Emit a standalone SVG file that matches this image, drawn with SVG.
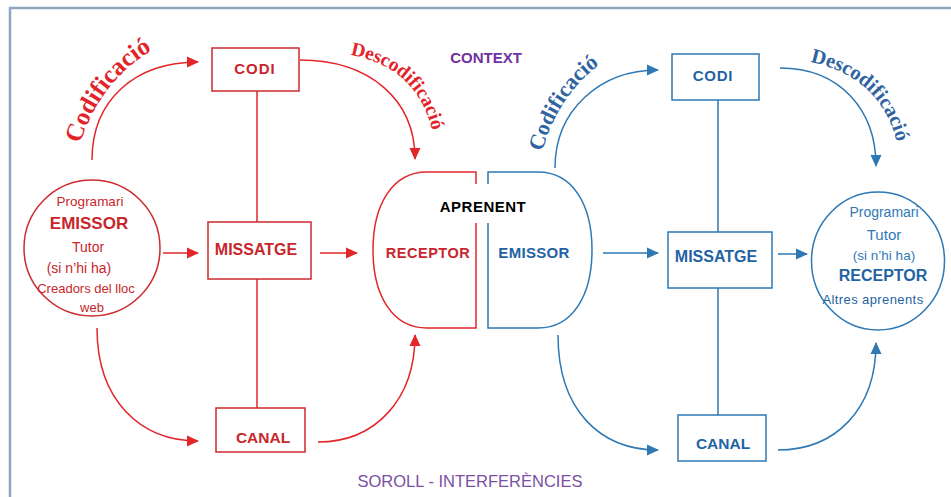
<svg xmlns="http://www.w3.org/2000/svg" width="951" height="497" viewBox="0 0 951 497">
<style>
.bg{fill:#ffffff}
.frame{fill:none;stroke:#8ea7bf;stroke-width:2.5}
.r{fill:none;stroke:#e2262a;stroke-width:1.5}
.rb{fill:#fff;stroke:#cc2a2e;stroke-width:1.5}
.b{fill:none;stroke:#2e78b4;stroke-width:1.5}
.bb{fill:#fff;stroke:#2e78b4;stroke-width:1.5}
text{font-family:"Liberation Sans",Arial,sans-serif;text-anchor:middle}
.rt{fill:#c8262c}
.bt{fill:#1f63a3}
.blt{fill:#2f79b6}
.bold{font-weight:bold}
.arcr{font-family:"Liberation Serif","DejaVu Serif",serif;font-weight:bold;fill:#e2232a;text-anchor:start}
.arcb{font-family:"Liberation Serif","DejaVu Serif",serif;font-weight:bold;fill:#2f64a0;text-anchor:start}
</style>
<defs>
<marker id="ar" markerUnits="userSpaceOnUse" markerWidth="12" markerHeight="12" refX="11" refY="6" orient="auto" viewBox="0 0 12 12"><path d="M0,0.5 L12,6 L0,11.5 z" fill="#e2262a"/></marker>
<marker id="ab" markerUnits="userSpaceOnUse" markerWidth="12" markerHeight="12" refX="11" refY="6" orient="auto" viewBox="0 0 12 12"><path d="M0,0.5 L12,6 L0,11.5 z" fill="#2e78b4"/></marker>
<path id="tp1" d="M80,144 Q103,72 168,42"/>
<path id="tp2" d="M350,55 Q422,68 434,140"/>
<path id="tp3" d="M542,152 Q562,82 620,52"/>
<path id="tp4" d="M810,62 Q888,78 900,158"/>
</defs>
<rect class="bg" x="0" y="0" width="951" height="497"/>
<rect class="frame" x="10" y="8" width="960" height="520"/>

<g id="connectors">
<path class="r" d="M257,91 V222 M257,279 V408"/>
<path class="r" d="M92,160 C92,100 135,62 198,62" marker-end="url(#ar)"/>
<path class="r" d="M300,60 C370,60 415,100 415,159" marker-end="url(#ar)"/>
<path class="r" d="M97,328 C97,400 140,441 198,441" marker-end="url(#ar)"/>
<path class="r" d="M318,442 C375,442 415,400 415,335" marker-end="url(#ar)"/>
<path class="r" d="M163,253 H198" marker-end="url(#ar)"/>
<path class="r" d="M320,253 H357" marker-end="url(#ar)"/>
<path class="b" d="M718,100 V232 M718,288 V415"/>
<path class="b" d="M555,168 C555,110 600,70 658,70" marker-end="url(#ab)"/>
<path class="b" d="M780,68 C840,68 876,110 876,166" marker-end="url(#ab)"/>
<path class="b" d="M558,335 C558,410 600,450 658,450" marker-end="url(#ab)"/>
<path class="b" d="M778,450 C835,450 876,410 876,343" marker-end="url(#ab)"/>
<path class="b" d="M603,253 H658" marker-end="url(#ab)"/>
<path class="b" d="M778,254 H807" marker-end="url(#ab)"/>
</g>

<g id="labels">
<text class="arcr" font-size="25"><textPath href="#tp1">Codificació</textPath></text>
<text class="arcr" font-size="19.5"><textPath href="#tp2">Descodificació</textPath></text>
<text class="arcb" font-size="22"><textPath href="#tp3">Codificació</textPath></text>
<text class="arcb" font-size="20.5"><textPath href="#tp4">Descodificació</textPath></text>
<text x="486" y="63" font-size="15" class="bold" fill="#7030a0">CONTEXT</text>
<text x="470" y="487" font-size="16.5" fill="#7b4fa3">SOROLL - INTERFERÈNCIES</text>
</g>

<g id="emissor">
<circle cx="92" cy="248" r="68" class="rb"/>
<text x="90" y="206" font-size="13.5" class="rt">Programari</text>
<text x="89" y="229" font-size="17" class="rt bold">EMISSOR</text>
<text x="88" y="252" font-size="14" class="rt">Tutor</text>
<text x="79" y="273" font-size="14" class="rt">(si n’hi ha)</text>
<text x="86" y="293" font-size="13" class="rt">Creadors del lloc</text>
<text x="92" y="312" font-size="13" class="rt">web</text>
</g>

<g id="codi-r">
<rect x="212" y="48" width="87" height="43" class="rb"/>
<text x="255" y="74" font-size="15" class="rt bold" letter-spacing="1">CODI</text>
</g>
<g id="missatge-r">
<rect x="208" y="222" width="103" height="57" class="rb"/>
<text x="256" y="255" font-size="16" class="rt bold">MISSATGE</text>
</g>
<g id="canal-r">
<rect x="216" y="408" width="89" height="44" class="rb"/>
<text x="263" y="443" font-size="15.5" class="rt bold">CANAL</text>
</g>

<g id="aprenent">
<path class="r" d="M476,184 V172 H427 C392,172 373,205 373,250 C373,295 392,328 427,328 H476 V223"/>
<path class="b" d="M488,184 V172 H538 C573,172 592,205 592,250 C592,295 573,328 538,328 H488 V223"/>
<text x="483" y="212" font-size="15" class="bold" fill="#000" letter-spacing="0.5">APRENENT</text>
<text x="428" y="258" font-size="14.5" class="rt bold" letter-spacing="0.5">RECEPTOR</text>
<text x="534" y="258" font-size="15" class="bt bold" letter-spacing="0.3">EMISSOR</text>
</g>

<g id="codi-b">
<rect x="672" y="54" width="87" height="46" class="bb"/>
<text x="713" y="81" font-size="15" class="bt bold" letter-spacing="0.8">CODI</text>
</g>
<g id="missatge-b">
<rect x="668" y="232" width="104" height="56" class="bb"/>
<text x="716" y="262" font-size="16" class="bt bold">MISSATGE</text>
</g>
<g id="canal-b">
<rect x="678" y="415" width="88" height="46" class="bb"/>
<text x="723" y="449" font-size="15.5" class="bt bold">CANAL</text>
</g>

<g id="receptor">
<ellipse cx="878" cy="261" rx="66.5" ry="69" class="bb"/>
<text x="884" y="217" font-size="14" class="blt">Programari</text>
<text x="884" y="240" font-size="15" class="blt">Tutor</text>
<text x="884" y="260" font-size="13.5" class="blt">(si n’hi ha)</text>
<text x="883" y="281" font-size="16" class="bt bold">RECEPTOR</text>
<text x="873" y="304" font-size="13" class="bt" letter-spacing="0.4">Altres aprenents</text>
</g>
</svg>
